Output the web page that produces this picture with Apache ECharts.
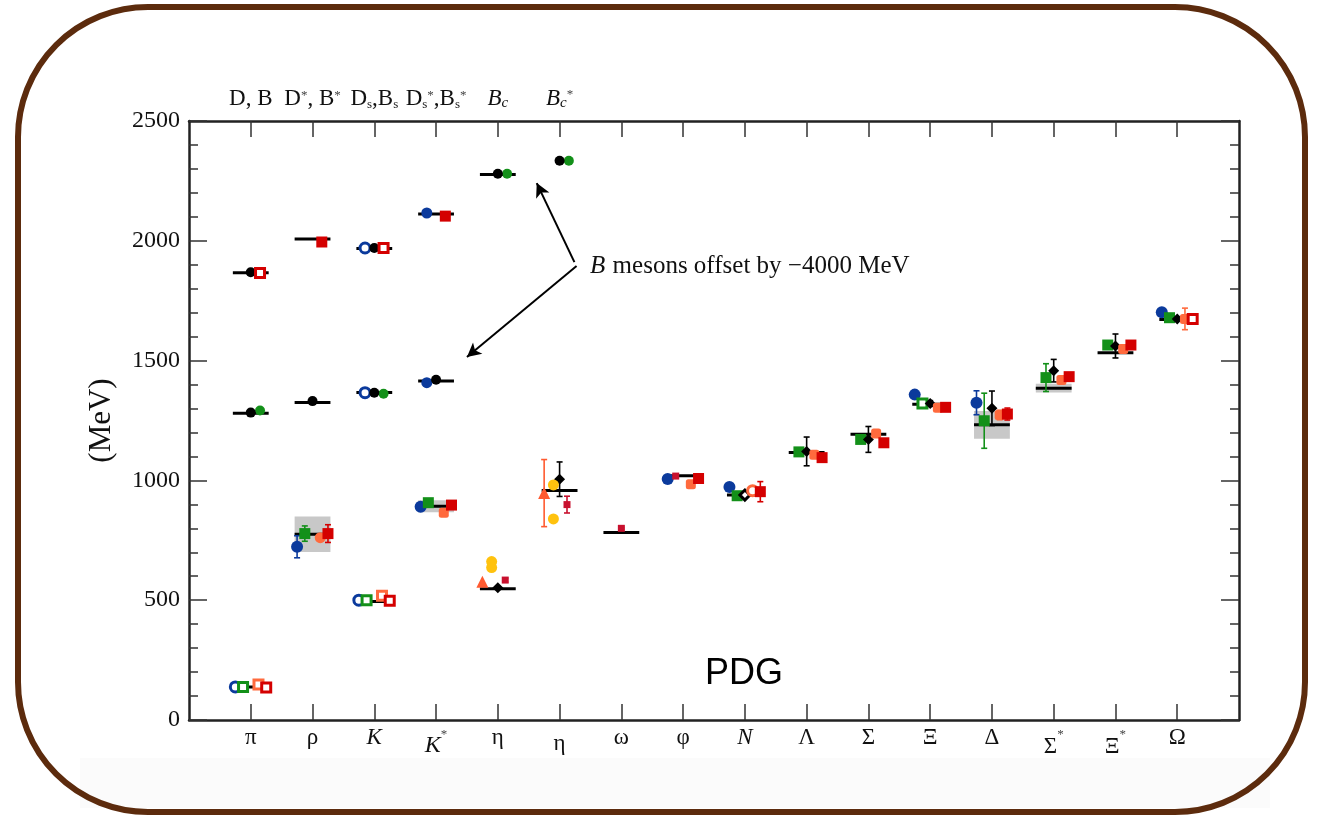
<!DOCTYPE html>
<html><head><meta charset="utf-8">
<script src="https://cdn.jsdelivr.net/npm/echarts@6/dist/echarts.min.js"></script>
<style>html,body{margin:0;padding:0;background:#fff}#c{width:1319px;height:820px}</style>
</head><body><div id="c"></div><script>
// ---------- DATA ----------
const categories = ['π','ρ','K','K*','η','η','ω','φ','N','Λ','Σ','Ξ','Δ','Σ*','Ξ*','Ω'];
const heavyLabels = ['D, B','D*, B*','Ds, Bs','Ds*, Bs*','Bc','Bc*'];
const yTicks = [0, 500, 1000, 1500, 2000, 2500];
// experiment [category, mass, half-width]
const expLight = [[0,138,0],[1,775,74],[2,495,0],[3,892,25],[4,548,0],[5,958,0],[6,783,0],[7,1019,0],[8,939,0],[9,1116,0],[10,1193,0],[11,1318,0],[12,1232,58],[13,1385,18],[14,1533,0],[15,1672,0]];
const expHeavy = [[0,1867,0],[0,1280,0],[1,2008,0],[1,1325,0],[2,1968,0],[2,1367,0],[3,2112,0],[3,1415,0],[4,2277,0]];
// lattice points [category, mass, error]
const blueCircles = [[1,723,46],[3,890,14],[7,1006,8],[8,972,14],[11,1358,10],[12,1324,50],[15,1702,0]];
const blueOpenCircles = [[0,138,0],[2,500,0]];
const blueHeavyOpen = [[2,1970,0],[2,1366,0]];
const blueHeavy = [[3,2116,0],[3,1408,0]];
const greenSquares = [[1,778,32],[3,907,0],[8,936,14],[9,1119,12],[10,1171,8],[12,1249,115],[13,1429,58],[14,1565,10],[15,1679,6]];
const greenOpenSquares = [[0,138,0],[2,500,0],[11,1321,0]];
const greenHeavy = [[0,1292,0],[2,1362,0],[4,2280,0],[5,2334,0]];
const blackDiamonds = [[4,552,0],[5,1005,72],[9,1121,60],[10,1171,54],[11,1321,12],[12,1301,72],[13,1458,47],[14,1561,50],[15,1674,0]];
const blackOpenDiamonds = [[8,939,0]];
const blackHeavy = [[0,1869,0],[0,1283,0],[1,1331,0],[2,1970,0],[2,1366,0],[3,1420,0],[4,2280,0],[5,2334,0]];
const orangeSquares = [[3,865,6],[7,984,10],[9,1107,10],[10,1196,10],[11,1303,12],[12,1273,20],[13,1419,14],[14,1548,16],[15,1674,45]];
const orangeCircles = [[1,761,0]];
const orangeOpenSquares = [[0,148,0],[2,519,0]];
const orangeOpenCircles = [[8,957,0]];
const redSquares = [[1,778,37],[3,897,0],[7,1008,0],[8,953,42],[9,1095,6],[10,1157,0],[11,1305,0],[12,1277,25],[13,1433,10],[14,1565,0]];
const redOpenSquares = [[0,136,0],[2,498,0],[15,1674,0]];
const redHeavyOpen = [[0,1866,0],[2,1970,0]];
const redHeavy = [[1,1995,0],[3,2103,0]];
const yellowCircles = [[4,661,0],[4,636,0],[5,981,15],[5,839,0]];
const orangeTriangles = [[4,577,0],[5,947,140]];
const darkRedA = [[4,584,8],[5,899,35]];
const darkRedB = [[6,800,4]];
const darkRedC = [[7,1018,0]];

// ---------- STYLE ----------
const SERIF = '"Liberation Serif","DejaVu Serif",serif';
const BLUE='#0b3a9c', GREEN='#139019', ORANGE='#ff6a3d', RED='#d40000', YEL='#ffc20e', DRED='#c8102e', BLK='#000';
const defs = [
  {d:blueCircles, c:BLUE, sym:'circle', s:12, off:-0.25},
  {d:blueOpenCircles, c:BLUE, sym:'circle', s:10, off:-0.25, open:true},
  {d:blueHeavyOpen, c:BLUE, sym:'circle', s:10, off:-0.15, open:true},
  {d:blueHeavy, c:BLUE, sym:'circle', s:11, off:-0.15},
  {d:greenSquares, c:GREEN, sym:'rect', s:11, off:-0.125},
  {d:greenOpenSquares, c:GREEN, sym:'rect', s:9, off:-0.125, open:true},
  {d:greenHeavy, c:GREEN, sym:'circle', s:10, off:0.15},
  {d:blackDiamonds, c:BLK, sym:'diamond', s:11, off:0},
  {d:blackOpenDiamonds, c:BLK, sym:'diamond', s:10, off:0, open:true},
  {d:blackHeavy, c:BLK, sym:'circle', s:10, off:0},
  {d:orangeSquares, c:ORANGE, sym:'roundRect', s:10, off:0.125},
  {d:orangeCircles, c:ORANGE, sym:'circle', s:11, off:0.125},
  {d:orangeOpenSquares, c:ORANGE, sym:'rect', s:9, off:0.125, open:true},
  {d:orangeOpenCircles, c:ORANGE, sym:'circle', s:10, off:0.125, open:true},
  {d:redSquares, c:RED, sym:'rect', s:11, off:0.25},
  {d:redOpenSquares, c:RED, sym:'rect', s:9, off:0.25, open:true},
  {d:redHeavyOpen, c:RED, sym:'rect', s:9, off:0.15, open:true},
  {d:redHeavy, c:RED, sym:'rect', s:11, off:0.15},
  {d:yellowCircles, c:YEL, sym:'circle', s:11, off:-0.1},
  {d:orangeTriangles, c:'#ff5a30', sym:'triangle', s:12, off:-0.25},
  {d:darkRedA, c:DRED, sym:'rect', s:7, off:0.12},
  {d:darkRedB, c:DRED, sym:'rect', s:7, off:0},
  {d:darkRedC, c:DRED, sym:'rect', s:7, off:-0.12}
];

const HALF = 0.29;
const chart = echarts.init(document.getElementById('c'));

function expRender(params, api) {
  const cat = api.value(0), m = api.value(1), w = api.value(2);
  const children = [];
  if (w > 0) {
    const a = api.coord([cat - HALF, m + w]), b = api.coord([cat + HALF, m - w]);
    children.push({type:'rect', shape:{x:a[0], y:a[1], width:b[0]-a[0], height:b[1]-a[1]}, style:{fill:'#c8c8c8'}});
  }
  const p = api.coord([cat - HALF, m]), q = api.coord([cat + HALF, m]);
  children.push({type:'line', shape:{x1:p[0], y1:p[1], x2:q[0], y2:q[1]}, style:{stroke:'#000', lineWidth:3}});
  return {type:'group', children};
}

function errRenderFactory(color) {
  return function(params, api) {
    const x = api.value(0), v = api.value(1), e = api.value(2);
    if (!(e > 0)) return null;
    const a = api.coord([x, v + e]), b = api.coord([x, v - e]);
    return {type:'group', children:[
      {type:'line', shape:{x1:a[0], y1:a[1], x2:b[0], y2:b[1]}, style:{stroke:color, lineWidth:1.6}},
      {type:'line', shape:{x1:a[0]-3, y1:a[1], x2:a[0]+3, y2:a[1]}, style:{stroke:color, lineWidth:1.6}},
      {type:'line', shape:{x1:b[0]-3, y1:b[1], x2:b[0]+3, y2:b[1]}, style:{stroke:color, lineWidth:1.6}}
    ]};
  };
}

const series = [];
series.push({type:'custom', renderItem:expRender, data:expLight.concat(expHeavy), z:1, silent:true});
defs.forEach(df => {
  const pts = df.d.map(p => [p[0] + df.off, p[1], p[2]]);
  series.push({type:'custom', renderItem:errRenderFactory(df.c), data:pts, z:2, silent:true});
  series.push({type:'scatter', data:pts.map(p => [p[0], p[1]]), symbol:df.sym, symbolSize:df.s, z:3, silent:true,
    itemStyle: df.open ? {color:'#fff', borderColor:df.c, borderWidth:3, opacity:1} : {color:df.c, opacity:1}});
});
// annotation arrows
series.push({type:'scatter', data:[], silent:true,
  markLine:{silent:true, symbol:['none','arrow'], symbolSize:[11,14], label:{show:false},
    lineStyle:{color:'#000', width:2, type:'solid'},
    data:[[{coord:[5.24,1911]},{coord:[4.63,2241]}],[{coord:[5.275,1895]},{coord:[3.50,1515]}]]}});

function catLabel(v) {
  const t = categories[v];
  if (t === undefined) return '';
  if (t === 'K*') return '{itlo|K}{sup|*}';
  if (t === 'N') return '{it|N}';
  if (t === 'K') return '{it|K}';
  if (t.endsWith('*')) return '{nlo|' + t[0] + '}{sup|*}';
  if (v === 5) return '{nlo2|' + t + '}';
  return '{n|' + t + '}';
}
function heavyLabel(v) {
  if (!(v >= 0 && v < heavyLabels.length)) return '';
  switch (heavyLabels[v]) {
    case 'D, B': return '{n|D, B}';
    case 'D*, B*': return '{n|D}{sup|*}{n|, B}{sup|*}';
    case 'Ds, Bs': return '{n|D}{sub|s}{n|,B}{sub|s}';
    case 'Ds*, Bs*': return '{n|D}{sub|s}{sup|*}{n|,B}{sub|s}{sup|*}';
    case 'Bc': return '{it|B}{subi|c}';
    case 'Bc*': return '{it|B}{subi|c}{sup|*}';
  }
  return '';
}
const richX = {
  n:{fontFamily:SERIF, fontSize:23, color:'#111', lineHeight:24},
  it:{fontFamily:SERIF, fontSize:23, fontStyle:'italic', color:'#111', lineHeight:24},
  itlo:{fontFamily:SERIF, fontSize:24, fontStyle:'italic', color:'#111', lineHeight:32, verticalAlign:'bottom'},
  nlo:{fontFamily:SERIF, fontSize:23, color:'#111', lineHeight:32, verticalAlign:'bottom'},
  nlo2:{fontFamily:SERIF, fontSize:23, color:'#111', lineHeight:29, verticalAlign:'bottom'},
  sup:{fontFamily:SERIF, fontSize:13, color:'#444', verticalAlign:'top', padding:[2,0,0,0]},
  sub:{fontFamily:SERIF, fontSize:13, color:'#222', verticalAlign:'bottom', padding:[10,0,0,0]},
  subi:{fontFamily:SERIF, fontSize:15, fontStyle:'italic', color:'#111', verticalAlign:'bottom', padding:[10,0,0,0]}
};

const axisLineStyle = {color:'#222', width:2.5};
const option = {
  animation:false,
  backgroundColor:'#fff',
  grid:{left:189, right:80, top:121, bottom:100},
  xAxis:[
    {type:'value', min:-1, max:16, interval:1, position:'bottom',
     axisLine:{show:true, onZero:false, lineStyle:axisLineStyle},
     axisTick:{show:true, inside:true, length:16, lineStyle:{color:'#333', width:1.5}},
     axisLabel:{margin:6, formatter:catLabel, rich:richX, showMinLabel:false, showMaxLabel:false},
     splitLine:{show:false}},
    {type:'value', min:-1, max:16, interval:1, position:'top',
     axisLine:{show:true, onZero:false, lineStyle:axisLineStyle},
     axisTick:{show:true, inside:true, length:16, lineStyle:{color:'#333', width:1.5}},
     axisLabel:{margin:10, formatter:heavyLabel, rich:richX, showMinLabel:false, showMaxLabel:false},
     splitLine:{show:false}}
  ],
  yAxis:[
    {type:'value', min:yTicks[0], max:yTicks[yTicks.length-1], interval:500, position:'left',
     name:'(MeV)', nameLocation:'middle', nameGap:72,
     nameTextStyle:{fontFamily:SERIF, fontSize:31, color:'#111'},
     axisLine:{show:true, onZero:false, lineStyle:axisLineStyle},
     axisTick:{show:true, inside:true, length:18, lineStyle:{color:'#333', width:1.5}},
     minorTick:{show:true, splitNumber:5, length:9, lineStyle:{color:'#333', width:1.5}},
     axisLabel:{margin:9, fontFamily:SERIF, fontSize:24, color:'#111', formatter:v => String(v)},
     splitLine:{show:false}},
    {type:'value', min:yTicks[0], max:yTicks[yTicks.length-1], interval:500, position:'right',
     axisLine:{show:true, onZero:false, lineStyle:axisLineStyle},
     axisTick:{show:true, inside:true, length:18, lineStyle:{color:'#333', width:1.5}},
     minorTick:{show:true, splitNumber:5, length:9, lineStyle:{color:'#333', width:1.5}},
     axisLabel:{show:false}, splitLine:{show:false}}
  ],
  graphic:[
    {type:'rect', z:-10, shape:{x:80, y:758, width:1190, height:50}, style:{fill:'#fbfbfb'}},
    {type:'rect', z:100, shape:{x:18, y:7, width:1287, height:805, r:130}, style:{fill:'none', stroke:'#5c2b0d', lineWidth:6}},
    {type:'text', z:50, left:590, top:254, style:{
      text:'{it|B} {n|mesons offset by \u22124000 MeV}',
      rich:{it:{fontFamily:SERIF, fontSize:25, fontStyle:'italic', fill:'#111', padding:[0,4,0,0]}, n:{fontFamily:SERIF, fontSize:25, fill:'#111'}}}},
    {type:'text', z:50, left:705, top:656, style:{text:'PDG', fontFamily:'"Liberation Sans","Open Sans",sans-serif', fontSize:36, fill:'#000'}}
  ],
  series
};
chart.setOption(option);
</script></body></html>
